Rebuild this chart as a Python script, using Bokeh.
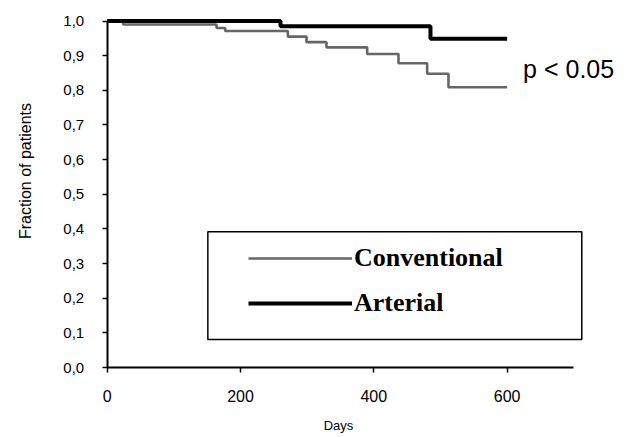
import math
from bokeh.plotting import figure
from bokeh.models import Range1d, FixedTicker, Label, Legend, LegendItem, BoxAnnotation
from bokeh.embed import file_html
from bokeh.resources import INLINE

# Data
conv_days = [0, 24, 164, 177, 271, 299, 329, 390, 437, 480, 512, 600]
conv_frac = [1.0, 0.99, 0.98, 0.971, 0.955, 0.939, 0.924, 0.905, 0.878, 0.848, 0.809, 0.809]
art_days = [0, 260, 485, 600]
art_frac = [1.0, 0.985, 0.949, 0.949]

x_ticks = [0, 200, 400, 600]
x_axis_end = 700
y_ticks = [0.0, 0.1, 0.2, 0.3, 0.4, 0.5, 0.6, 0.7, 0.8, 0.9, 1.0]
y_tick_labels = {v: f"{v:.1f}".replace(".", ",") for v in y_ticks}

# Axes are pinned at x=0 / y=0 inside a frame that fills the canvas
p = figure(width=628, height=437, output_backend="svg", toolbar_location=None, title=None,
           x_range=Range1d(-160.1, 782.1), y_range=Range1d(-0.202, 1.0592),
           min_border=0)
p.outline_line_color = None
p.xgrid.visible = False
p.ygrid.visible = False
p.background_fill_color = "white"
p.border_fill_color = "white"

r_conv = p.step(conv_days, conv_frac, mode="after", line_color="#666666", line_width=2.6)
r_art = p.step(art_days, art_frac, mode="after", line_color="black", line_width=4)

for ax in (p.xaxis[0], p.yaxis[0]):
    ax.fixed_location = 0
    ax.axis_line_width = 2
    ax.axis_line_color = "black"
    ax.major_tick_line_color = "black"
    ax.major_tick_line_width = 1.5
    ax.major_tick_in = 0
    ax.major_tick_out = 5
    ax.minor_tick_line_color = None
    ax.major_label_text_font = "Liberation Sans"
    ax.major_label_text_color = "black"

p.xaxis.bounds = (0, x_axis_end)
p.xaxis.ticker = FixedTicker(ticks=x_ticks)
p.xaxis.major_label_text_font_size = "16px"
p.xaxis.major_label_standoff = 17

p.yaxis.bounds = (0, 1)
p.yaxis.ticker = FixedTicker(ticks=y_ticks)
p.yaxis.major_label_overrides = y_tick_labels
p.yaxis.major_label_text_font_size = "15px"
p.yaxis.major_label_standoff = 18

# Axis titles
p.add_layout(Label(x=347, y=-0.167, text="Days", text_font="Liberation Sans",
                   text_font_size="13px", text_color="black",
                   text_align="center", text_baseline="middle"))
p.add_layout(Label(x=-122.6, y=0.567, text="Fraction of patients", angle=math.pi / 2,
                   text_font="Liberation Sans", text_font_size="16px", text_color="black",
                   text_align="center", text_baseline="middle"))

p.add_layout(Label(x=624, y=0.862, text="p < 0.05", text_font="Liberation Sans",
                   text_font_size="25px", text_color="black", text_baseline="alphabetic"))

# Legend frame
p.add_layout(BoxAnnotation(left=151, right=712, bottom=0.081, top=0.392,
                           fill_color=None, fill_alpha=0, line_color="black",
                           line_alpha=1.0, line_width=1.5))

legend = Legend(items=[LegendItem(label="Conventional", renderers=[r_conv]),
                       LegendItem(label="Arterial", renderers=[r_art])],
                location=(248, 119), orientation="vertical",
                padding=0, margin=0, spacing=15,
                glyph_width=104, glyph_height=26, label_height=26, label_standoff=2,
                label_text_font="Liberation Serif", label_text_font_style="bold",
                label_text_font_size="26px", label_text_color="black",
                border_line_color=None, background_fill_alpha=0)
p.add_layout(legend)

open("out.html", "w").write(file_html(p, INLINE))
